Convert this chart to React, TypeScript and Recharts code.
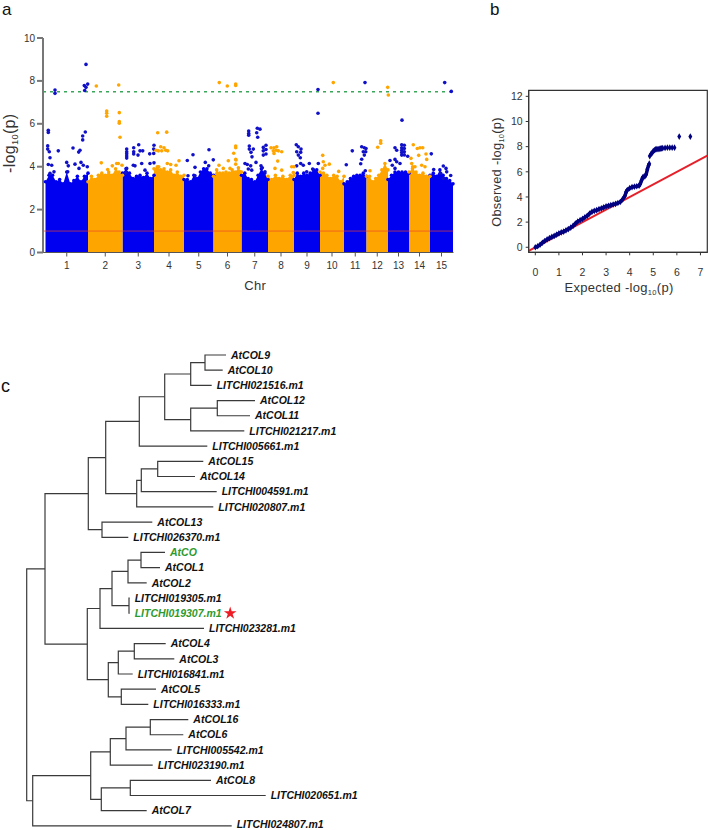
import React from 'react';
import {
	Area,
	ComposedChart,
	Label,
	ReferenceArea,
	ReferenceLine,
	Scatter,
	ScatterChart,
	Symbols,
	XAxis,
	YAxis,
} from 'recharts';

const FONT = '"Liberation Sans", Arial, sans-serif';
const BLUE = '#0000f0';
const BLUE_DOT = '#1010c8';
const ORANGE = '#ffa500';
const NAVY = '#000080';
const INK = '#333333';
const GREEN_LABEL = '#2e9a2e';

// panel a - genome position of the chromosome borders
const chromBorders = [45.5, 88, 122.5, 154, 184, 213.5, 241.5, 268, 294, 320, 344, 366.5, 388, 409, 430, 453];
const chromTops = [
	[3.3, 3.6, 3.6, 3.3, 3.4, 3.2, 3.75, 3.2, 3.35, 3.55, 3.3, 3.55, 3.7],
	[3.3, 3.55, 3.4, 3.6, 3.7, 3.6, 3.75, 3.6, 3.9, 3.75, 3.6],
	[3.7, 3.9, 3.7, 3.45, 3.55, 3.6, 3.5, 3.7, 3.45, 3.6],
	[3.9, 4.0, 3.85, 3.9, 3.75, 3.85, 3.6, 3.75, 3.55, 3.6],
	[3.4, 3.4, 3.3, 3.6, 3.45, 3.75, 3.9, 3.9, 3.7, 3.6],
	[3.55, 3.85, 3.7, 3.7, 3.75, 3.7, 3.85, 3.75, 3.95, 3.75],
	[3.6, 3.7, 3.45, 3.4, 3.3, 3.6, 3.9, 3.7, 3.4],
	[3.55, 3.4, 3.6, 3.45, 3.55, 3.4, 3.6, 3.6],
	[3.4, 3.7, 3.55, 3.7, 3.6, 3.7, 3.85, 3.85, 3.6],
	[3.75, 3.7, 3.6, 3.45, 3.6, 3.55, 3.3, 3.55],
	[3.2, 3.3, 3.45, 3.55, 3.6, 3.6, 3.7, 3.55],
	[3.55, 3.55, 3.3, 3.45, 3.6, 3.85, 4.15, 3.85],
	[3.4, 3.6, 3.75, 3.75, 3.75, 3.75, 3.7],
	[3.75, 3.9, 3.75, 3.6, 3.7, 3.55, 3.55],
	[3.6, 3.7, 3.55, 3.85, 3.6, 3.45, 3.35, 3.2],
];
const blueHits = [
	[86, 8.77], [87.7, 7.85], [84.3, 7.78], [86, 7.7], [84.7, 7.55], [55, 7.57], [55, 7.42],
	[48.3, 5.7], [48.3, 5.6], [85.3, 5.62], [82.7, 5.43], [82.7, 5.25], [47.7, 4.97], [47.7, 4.82],
	[49.3, 4.7], [58.3, 4.74], [73, 4.87], [80, 4.77], [78.7, 4.68], [50, 4.42], [48.3, 4.1],
	[51.7, 4.07], [66.7, 4.2], [68.3, 4.04], [75, 4.12], [81, 4.2], [79, 3.92], [83.3, 4.07],
	[87.3, 4], [50, 3.69], [54, 3.76], [67.7, 3.76],
	[126.7, 4.82], [126.7, 4.7], [126.7, 4.6], [126.7, 4.5], [126.7, 4.4], [133.7, 4.88], [133.7, 4.7],
	[133.7, 4.59], [138.7, 5.02], [140, 4.74], [142.7, 4.74], [138, 4.54], [149.7, 4.6], [154, 5.0],
	[153.7, 4.82], [153.7, 4.62], [126.7, 3.92], [133.3, 4.07], [141.7, 4.15], [150, 4.15], [154, 4.18],
	[125.7, 3.72], [145, 3.84], [135, 4.04],
	[209, 4.79], [193, 4.56], [187.3, 4.29], [195, 3.97], [205.3, 4.2], [213.3, 4.32], [208.7, 4.04],
	[188, 3.58], [195, 3.58],
	[248.7, 5.66], [248.7, 5.55], [248.7, 5.47], [256.7, 5.58], [257.7, 5.37], [257.3, 5.79], [260, 5.75],
	[249.3, 4.96], [249.3, 4.82], [253.3, 4.82], [251, 4.67], [252, 4.46], [266, 5.0], [263.3, 4.9],
	[263.3, 4.74], [266, 4.8], [263.3, 4.54], [266, 4.59], [245, 4.15], [247.3, 4.1], [250.7, 4.04],
	[248.3, 3.89], [251.7, 3.84], [256, 4.2], [261, 4.04], [262.3, 3.95], [265, 3.76],
	[296.3, 5.02], [298.3, 4.93], [301, 4.82], [296.7, 4.7], [300.7, 4.67], [298.3, 4.54], [300.3, 4.42],
	[300.7, 4.15], [296.7, 4.04], [309.3, 4.15], [318.3, 4.15], [318, 7.6], [318, 6.49], [303.3, 4.07],
	[312.7, 3.89], [306.7, 3.76],
	[365, 7.92], [352.3, 4.74], [346.3, 4.09], [360.7, 4.14], [361.7, 4.35], [361.7, 4.93], [364.3, 4.88],
	[366, 4.85], [363.3, 4.7], [365.7, 4.7], [364.3, 4.54], [365.3, 3.81],
	[402, 6.17], [395, 4.88], [396.7, 4.77], [401.7, 5.02], [404.3, 5], [401.7, 4.88], [401.7, 4.77],
	[401.7, 4.66], [401.7, 4.54], [404.3, 4.85], [404.3, 4.7], [404.3, 4.55], [407.7, 4.49], [390, 4.29],
	[395, 4.34], [396.7, 4.23], [392.3, 4.07], [400, 4.15], [395, 3.92],
	[444.7, 7.92], [451.3, 7.51], [431.3, 4.6], [433.7, 3.87], [443.3, 4.03], [446, 3.92], [446.7, 3.76],
	[450.7, 3.59], [440.7, 3.69], [443.3, 3.45],
];
const orangeHits = [
	[96.3, 7.76], [118.7, 7.81], [106.7, 6.6], [106.7, 6.49], [106.7, 6.35], [119.3, 6.52], [119.3, 6.1],
	[119.3, 6.03], [120, 5.37], [101.3, 4.18], [112.3, 4.04], [116.7, 4.15], [118.3, 4.15], [122, 4.07],
	[107.7, 3.87],
	[157.7, 5.58], [166.7, 5.61], [156, 4.77], [160.7, 4.93], [164, 4.88], [158.3, 4.74], [161.7, 4.74],
	[165.7, 4.77], [167.7, 4.74], [167.3, 4.15], [170.7, 4.1], [179, 4.28], [176, 4.07], [158.7, 4],
	[219.3, 7.92], [227.3, 7.76], [235.7, 7.85], [235.7, 7.79], [235.7, 4.96], [235.7, 4.88], [233.7, 4.63],
	[235.7, 4.34], [235.7, 4.12], [219, 4.07], [228.3, 4.28], [236, 4.31], [230, 3.92], [223.3, 3.92], [240, 3.76],
	[271, 4.88], [274, 4.88], [276.7, 4.93], [273.3, 4.74], [276, 4.77], [274, 4.62], [278.3, 4.74],
	[281.7, 4.7], [277.7, 4.26], [275, 3.92], [281.7, 3.84], [291.7, 4], [294, 4], [293.3, 3.73],
	[333.3, 7.92], [322.7, 4.53], [323.3, 4.23], [329.3, 4.12], [325, 4.07], [322.7, 3.92], [338.7, 3.78],
	[387.7, 7.7], [388.3, 7.34], [380.7, 5.21], [380.7, 5.09], [377.7, 4.91], [370, 3.81],
	[413.3, 5.02], [417.3, 4.85], [420, 4.88], [422.7, 4.88], [418.7, 4.53], [411, 4.39], [426, 4.59],
	[426.7, 4.34], [411.7, 4.15], [412.7, 4], [421.7, 4.07], [425, 4], [415, 4],
];
const manhattanYTicks = [0, 2, 4, 6, 8, 10];

// panel b
const qqCurve = [
	[0, 0], [0.1, 0.08], [0.2, 0.2], [0.3, 0.36], [0.4, 0.5], [0.5, 0.62], [0.6, 0.72], [0.7, 0.82], [0.8, 0.9],
	[0.9, 1.0], [1, 1.1], [1.1, 1.18], [1.2, 1.25], [1.3, 1.35], [1.4, 1.45], [1.5, 1.56], [1.6, 1.7], [1.7, 1.88],
	[1.8, 2.05], [1.9, 2.15], [2, 2.25], [2.1, 2.38], [2.2, 2.5], [2.3, 2.68], [2.4, 2.82], [2.5, 2.89], [2.6, 2.95],
	[2.7, 3.03], [2.8, 3.1], [2.9, 3.18], [3, 3.25], [3.1, 3.3], [3.2, 3.35], [3.3, 3.4], [3.4, 3.45], [3.5, 3.52],
	[3.6, 3.6], [3.7, 3.8], [3.8, 4.1], [3.85, 4.4], [3.9, 4.55], [4, 4.7], [4.1, 4.78], [4.2, 4.82], [4.3, 4.85],
	[4.4, 4.9], [4.45, 5.05], [4.5, 5.3], [4.55, 5.55], [4.6, 5.6], [4.65, 5.65], [4.7, 5.8], [4.75, 6.2], [4.8, 6.5],
	[4.83, 6.65],
];
const qqTail = [
	[4.85, 7.25], [4.9, 7.4], [4.95, 7.5], [5, 7.65], [5.05, 7.72], [5.1, 7.78], [5.15, 7.8], [5.2, 7.8], [5.25, 7.82],
	[5.3, 7.85], [5.35, 7.86], [5.4, 7.88], [5.5, 7.9], [5.6, 7.92], [5.7, 7.92], [5.8, 7.92], [5.9, 7.92], [6.1, 8.8], [6.57, 8.8],
];
const qqXTicks = [0, 1, 2, 3, 4, 5, 6, 7];
const qqYTicks = [0, 2, 4, 6, 8, 10, 12];
const qqXRange = [-0.28, 7.29];
const qqYRange = [-0.4, 12.48];

// panel c - leaves top to bottom, then the joins (ids from 100 point to earlier joins)
const leafNames = [
	'AtCOL9', 'AtCOL10', 'LITCHI021516.m1', 'AtCOL12', 'AtCOL11', 'LITCHI021217.m1', 'LITCHI005661.m1', 'AtCOL15',
	'AtCOL14', 'LITCHI004591.m1', 'LITCHI020807.m1', 'AtCOL13', 'LITCHI026370.m1', 'AtCO', 'AtCOL1', 'AtCOL2',
	'LITCHI019305.m1', 'LITCHI019307.m1', 'LITCHI023281.m1', 'AtCOL4', 'AtCOL3', 'LITCHI016841.m1', 'AtCOL5',
	'LITCHI016333.m1', 'AtCOL16', 'AtCOL6', 'LITCHI005542.m1', 'LITCHI023190.m1', 'AtCOL8', 'LITCHI020651.m1',
	'AtCOL7', 'LITCHI024807.m1',
];
const leafDepths = [
	226, 222.7, 211.7, 255, 250, 244.3, 207.3, 203.3, 195, 216.7, 213.3, 152.3, 128.3, 165, 160, 146.7, 129.7, 129.7,
	204, 165.7, 174.3, 132.7, 156, 148.3, 188.3, 183.3, 171.7, 152.7, 211, 265.7, 146.7, 231.7,
];
const joinChildren = [
	[0, 1], [100, 2], [3, 4], [102, 5], [101, 103], [104, 6], [7, 8], [106, 9], [107, 10], [105, 108], [11, 12],
	[109, 110], [13, 14], [112, 15], [16, 17], [113, 114], [115, 18], [19, 20], [117, 21], [22, 23], [118, 119],
	[116, 120], [111, 121], [24, 25], [123, 26], [124, 27], [28, 29], [126, 30], [125, 127], [128, 31], [122, 129],
];
const joinDepths = [
	205, 190.7, 217.3, 190.7, 164.7, 139.3, 157.7, 141.3, 136.7, 105.7, 102, 88.3, 141, 128, 129, 112, 100, 134.3,
	118.3, 121.3, 108.3, 87.3, 45, 150.3, 126, 110.3, 130.3, 101.3, 90.7, 32.7, 26.7,
];
const greenLeaves = ['AtCO', 'LITCHI019307.m1'];
const starLeaf = 'LITCHI019307.m1';

const toPoints = (pairs: number[][]) => pairs.map(([pos, val]) => ({ pos, val }));

// one row per sampled position, odd chromosomes blue, even ones orange
const buildRows = () => {
	const rows = new Map<number, any>();
	chromTops.forEach((tops, c) => {
		const start = chromBorders[c];
		const end = chromBorders[c + 1];
		const key = c % 2 === 0 ? 'blue' : 'orange';
		tops.forEach((top, i) => {
			const pos = +(start + ((end - start) * i) / (tops.length - 1)).toFixed(2);
			rows.set(pos, { ...(rows.get(pos) || { pos }), [key]: top });
		});
	});
	return [...rows.values()].sort((a, b) => a.pos - b.pos);
};
const manhattanRows = buildRows();
const chromCentres = chromTops.map((_, c) => (chromBorders[c] + chromBorders[c + 1]) / 2);
// the same sampled tops again as dots, so the edge of each column looks like points
const edgePoints = (key: string) =>
	manhattanRows.filter((r) => r[key] != null).map((r) => ({ pos: r.pos, val: r[key] }));

// rows of the tree joins: each join sits half way between its two children
const joinRows: number[] = [];
const rowOf = (id: number) => (id >= 100 ? joinRows[id - 100] : id);
const depthOf = (id: number) => (id >= 100 ? joinDepths[id - 100] : leafDepths[id]);
joinChildren.forEach(([a, b]) => joinRows.push((rowOf(a) + rowOf(b)) / 2));
const elbows = joinChildren.map(([a, b], i) => [
	{ x: depthOf(a), y: rowOf(a) },
	{ x: joinDepths[i], y: rowOf(a) },
	{ x: joinDepths[i], y: rowOf(b) },
	{ x: depthOf(b), y: rowOf(b) },
]);
const leafPoints = leafNames.map((name, i) => ({ x: leafDepths[i], y: i, name }));
const starPoints = leafPoints.filter((p) => p.name === starLeaf);

const LogTitle = ({ x, y, rotate, size, prefix }: any) => (
	<text
		x={x}
		y={y}
		textAnchor='middle'
		fontFamily={FONT}
		fontSize={size}
		fill={INK}
		letterSpacing={0.3}
		transform={rotate ? `rotate(-90 ${x} ${y})` : undefined}
	>
		{prefix}-log
		<tspan fontSize={size * 0.58} dy={size * 0.2}>
			10
		</tspan>
		<tspan dy={-size * 0.2}>(p)</tspan>
	</text>
);

const Dot = ({ cx, cy, fill }: any) => <circle cx={cx} cy={cy} r={1.8} fill={fill} />;
const Diamond = ({ cx, cy }: any) => <Symbols cx={cx} cy={cy} type='diamond' size={13} fill={NAVY} />;
const Star = ({ cx, cy }: any) => <Symbols cx={cx + 100.5} cy={cy} type='star' size={50} fill='#ee1c25' />;
const NoMark = () => null;
const LeafLabel = ({ cx, cy, payload }: any) => (
	<text
		x={cx + 5}
		y={Math.min(cy + 3.7, 487.6)}
		fontFamily={FONT}
		fontSize={10.5}
		fontWeight='bold'
		fontStyle='italic'
		fill={greenLeaves.includes(payload.name) ? GREEN_LABEL : '#111111'}
	>
		{payload.name}
	</text>
);

const tickStyle = { fontFamily: FONT, fontSize: 10, fill: INK };
const qqTickStyle = { fontFamily: FONT, fontSize: 10.5, fill: INK };

const Manhattan = () => (
	<ComposedChart
		width={470}
		height={300}
		data={manhattanRows}
		margin={{ top: 38, right: 16.5, bottom: 0, left: 0 }}
	>
		<XAxis
			dataKey='pos'
			type='number'
			domain={[43, 453.5]}
			ticks={chromCentres}
			tickFormatter={(v) => String(chromCentres.indexOf(v) + 1)}
			height={47.5}
			tickSize={4}
			tickMargin={5}
			interval={0}
			stroke='#555555'
			tick={tickStyle}
		>
			<Label
				content={({ viewBox }: any) => (
					<text x={viewBox.x + viewBox.width / 2 + 7} y={290} textAnchor='middle' fontFamily={FONT} fontSize={13} letterSpacing={0.3} fill={INK}>
						Chr
					</text>
				)}
			/>
		</XAxis>
		<YAxis
			dataKey='val'
			type='number'
			domain={[0, 10]}
			ticks={manhattanYTicks}
			width={43}
			tickSize={6}
			tickMargin={2}
			stroke='#777777'
			strokeWidth={2}
			tick={tickStyle}
		>
			<Label content={({ viewBox }: any) => <LogTitle x={15} y={viewBox.y + viewBox.height / 2 - 2} rotate size={16} prefix='' />} />
		</YAxis>
		<Area dataKey='blue' stroke='none' fill={BLUE} fillOpacity={1} dot={false} activeDot={false} isAnimationActive={false} />
		<Area dataKey='orange' stroke='none' fill={ORANGE} fillOpacity={1} dot={false} activeDot={false} isAnimationActive={false} />
		<Scatter data={edgePoints('blue')} dataKey='val' shape={<Dot fill={BLUE} />} isAnimationActive={false} />
		<Scatter data={edgePoints('orange')} dataKey='val' shape={<Dot fill={ORANGE} />} isAnimationActive={false} />
		<Scatter data={toPoints(blueHits)} dataKey='val' shape={<Dot fill={BLUE_DOT} />} isAnimationActive={false} />
		<Scatter data={toPoints(orangeHits)} dataKey='val' shape={<Dot fill={ORANGE} />} isAnimationActive={false} />
		<ReferenceLine y={1} stroke='#e8442a' strokeWidth={0.9} strokeOpacity={0.75} />
		<ReferenceLine y={7.5} stroke='#3aa65a' strokeWidth={1.5} strokeDasharray='3 4' />
	</ComposedChart>
);

const QQPlot = () => (
	<ScatterChart width={238} height={300} margin={{ top: 90.3, right: 0.7, bottom: 0, left: 0 }}>
		<XAxis
			dataKey='x'
			type='number'
			domain={qqXRange}
			ticks={qqXTicks}
			allowDataOverflow
			height={47.7}
			tickSize={3}
			tickMargin={13}
			interval={0}
			stroke={INK}
			tick={qqTickStyle}
		>
			<Label content={() => <LogTitle x={149} y={292} size={13} prefix='Expected ' />} />
		</XAxis>
		<YAxis
			dataKey='y'
			type='number'
			domain={qqYRange}
			ticks={qqYTicks}
			allowDataOverflow
			width={58.7}
			tickSize={3}
			tickMargin={3}
			interval={0}
			stroke={INK}
			tick={qqTickStyle}
		>
			<Label content={() => <LogTitle x={31} y={172} rotate size={12.8} prefix='Observed ' />} />
		</YAxis>
		<ReferenceArea x1={qqXRange[0]} x2={qqXRange[1]} y1={qqYRange[0]} y2={qqYRange[1]} fill='none' stroke={INK} strokeWidth={1.2} />
		<Scatter
			data={qqCurve.map(([x, y]) => ({ x, y }))}
			line={{ stroke: NAVY, strokeWidth: 3.5 }}
			shape={Diamond}
			isAnimationActive={false}
		/>
		<Scatter data={qqTail.map(([x, y]) => ({ x, y }))} shape={Diamond} isAnimationActive={false} />
		<ReferenceLine
			segment={[
				{ x: qqXRange[0], y: qqXRange[0] },
				{ x: qqXRange[1], y: qqXRange[1] },
			]}
			stroke='#e6202a'
			strokeWidth={2}
		/>
	</ScatterChart>
);

const Tree = () => (
	<ScatterChart width={708} height={490} margin={{ top: 0, right: 0, bottom: 0, left: 0 }}>
		<XAxis dataKey='x' type='number' domain={[0, 708]} hide />
		<YAxis dataKey='y' type='number' domain={[-0.987, 31.27]} reversed hide />
		{elbows.map((points, i) => (
			<Scatter
				key={i}
				data={points}
				line={{ stroke: '#3a3a3a', strokeWidth: 1.2 }}
				shape={NoMark}
				isAnimationActive={false}
			/>
		))}
		<Scatter data={leafPoints} shape={LeafLabel} isAnimationActive={false} />
		<Scatter data={starPoints} shape={Star} isAnimationActive={false} />
	</ScatterChart>
);

const App: React.FC = () => (
	<div style={{ position: 'absolute', left: 0, top: 0, width: 708, height: 830, background: '#fff', overflow: 'hidden' }}>
		<div style={{ position: 'absolute', left: 0, top: 0 }}>
			<Manhattan />
		</div>
		<div style={{ position: 'absolute', left: 470, top: 0 }}>
			<QQPlot />
		</div>
		<div style={{ position: 'absolute', left: 0, top: 340 }}>
			<Tree />
		</div>
		<svg width={708} height={30} style={{ position: 'absolute', left: 0, top: 0 }}>
			<text x={2} y={15} fontFamily={FONT} fontSize={17} fill='#111'>a</text>
			<text x={490} y={15} fontFamily={FONT} fontSize={17} fill='#111'>b</text>
		</svg>
		<svg width={30} height={30} style={{ position: 'absolute', left: 0, top: 370 }}>
			<text x={1} y={21.5} fontFamily={FONT} fontSize={18} fill='#111'>c</text>
		</svg>
	</div>
);

export default App;
